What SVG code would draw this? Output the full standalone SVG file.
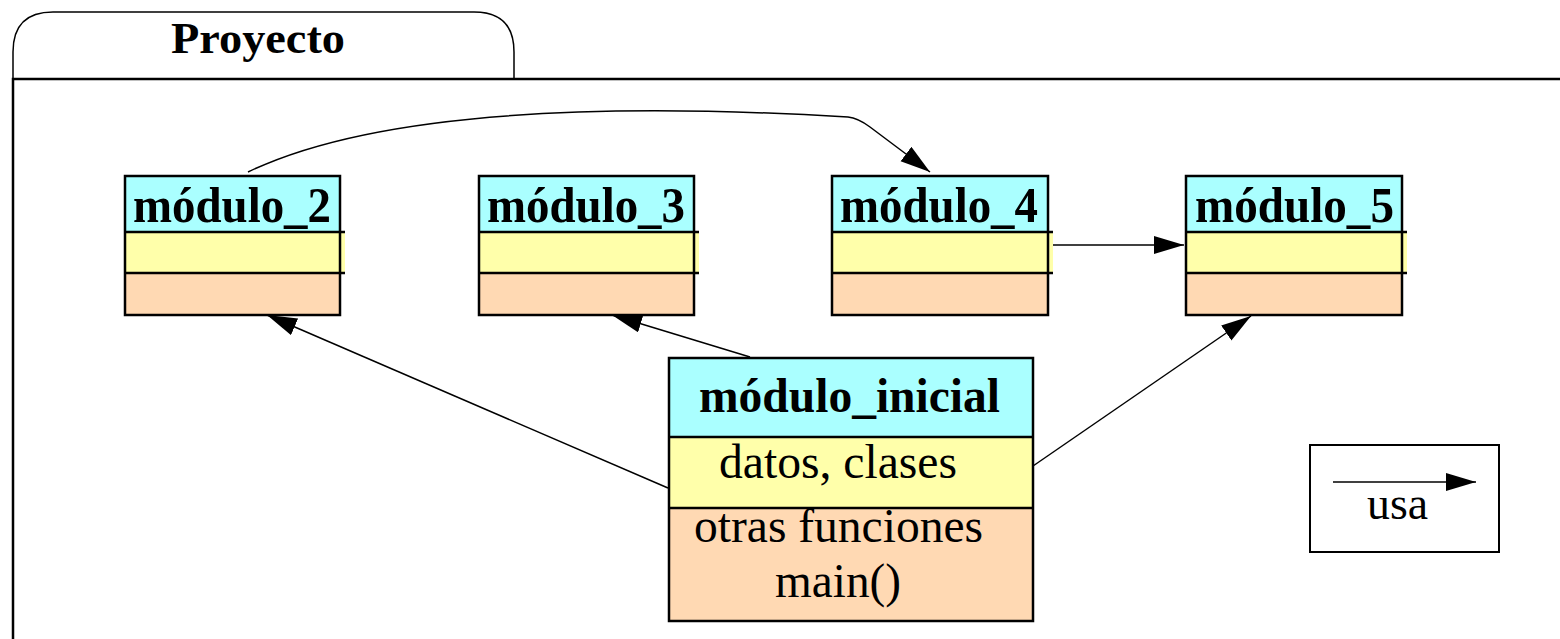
<svg xmlns="http://www.w3.org/2000/svg" width="1560" height="639" viewBox="0 0 1560 639">
<style>
.hdr{fill:#AAFFFF}
.dat{fill:#FFFFAA}
.fn{fill:#FFD9B3}
.bd{fill:none;stroke:#000;stroke-width:2.5}
.ln{stroke:#000;stroke-width:2.5}
.t{font-family:"Liberation Serif","Times New Roman",serif;fill:#000}
.b{font-weight:bold}
.con{fill:none;stroke:#000;stroke-width:1.5}
</style>
<defs>
<marker id="ah" markerUnits="userSpaceOnUse" markerWidth="32" markerHeight="20" refX="30" refY="9" orient="auto">
<path d="M0,0 L30,9 L0,18 Z" fill="#000"/>
</marker>
</defs>
<rect width="1560" height="639" fill="#fff"/>
<g id="proyecto">
<path d="M13,79 L13,52 Q13,12 53,12 L474,12 Q514,12 514,52 L514,79" fill="none" stroke="#000" stroke-width="1.5"/>
<path d="M13,639 L13,79 L1560,79" fill="none" stroke="#000" stroke-width="2.5"/>
<text class="t b" x="171" y="53" font-size="45" textLength="174" lengthAdjust="spacingAndGlyphs">Proyecto</text>
</g>
<g id="modulo_2">
<rect class="hdr" x="125" y="176" width="215" height="56"/>
<rect class="dat" x="125" y="232" width="220" height="41"/>
<rect class="fn" x="125" y="273" width="215" height="42"/>
<rect class="bd" x="125" y="176" width="215" height="139"/>
<line class="ln" x1="125" y1="232" x2="345" y2="232"/>
<line class="ln" x1="125" y1="273" x2="345" y2="273"/>
<text class="t b" x="133" y="222" font-size="50" textLength="198" lengthAdjust="spacingAndGlyphs">módulo_2</text>
</g>
<g id="modulo_3">
<rect class="hdr" x="479" y="176" width="215" height="56"/>
<rect class="dat" x="479" y="232" width="220" height="41"/>
<rect class="fn" x="479" y="273" width="215" height="42"/>
<rect class="bd" x="479" y="176" width="215" height="139"/>
<line class="ln" x1="479" y1="232" x2="699" y2="232"/>
<line class="ln" x1="479" y1="273" x2="699" y2="273"/>
<text class="t b" x="487" y="222" font-size="50" textLength="198" lengthAdjust="spacingAndGlyphs">módulo_3</text>
</g>
<g id="modulo_4">
<rect class="hdr" x="832" y="176" width="216" height="56"/>
<rect class="dat" x="832" y="232" width="221" height="41"/>
<rect class="fn" x="832" y="273" width="216" height="42"/>
<rect class="bd" x="832" y="176" width="216" height="139"/>
<line class="ln" x1="832" y1="232" x2="1053" y2="232"/>
<line class="ln" x1="832" y1="273" x2="1053" y2="273"/>
<text class="t b" x="840" y="222" font-size="50" textLength="198" lengthAdjust="spacingAndGlyphs">módulo_4</text>
</g>
<g id="modulo_5">
<rect class="hdr" x="1186" y="176" width="216" height="56"/>
<rect class="dat" x="1186" y="232" width="221" height="41"/>
<rect class="fn" x="1186" y="273" width="216" height="42"/>
<rect class="bd" x="1186" y="176" width="216" height="139"/>
<line class="ln" x1="1186" y1="232" x2="1407" y2="232"/>
<line class="ln" x1="1186" y1="273" x2="1407" y2="273"/>
<text class="t b" x="1195" y="222" font-size="50" textLength="199" lengthAdjust="spacingAndGlyphs">módulo_5</text>
</g>
<g id="modulo_inicial">
<rect class="hdr" x="669" y="358" width="364" height="79"/>
<rect class="dat" x="669" y="437" width="364" height="71"/>
<rect class="fn" x="669" y="508" width="364" height="113"/>
<rect class="bd" x="669" y="358" width="364" height="263"/>
<line class="ln" x1="669" y1="437" x2="1033" y2="437"/>
<line class="ln" x1="669" y1="508" x2="1033" y2="508"/>
<text class="t b" x="699" y="412" font-size="48" textLength="301" lengthAdjust="spacingAndGlyphs">módulo_inicial</text>
<text class="t" x="719" y="478" font-size="48" textLength="238" lengthAdjust="spacingAndGlyphs">datos, clases</text>
<text class="t" x="694" y="542" font-size="48" textLength="289" lengthAdjust="spacingAndGlyphs">otras funciones</text>
<text class="t" x="775" y="597" font-size="48" textLength="126" lengthAdjust="spacingAndGlyphs">main()</text>
</g>
<g id="leyenda">
<rect x="1310" y="445" width="189" height="107" fill="#fff" stroke="#000" stroke-width="2"/>
<line class="con" x1="1333" y1="482" x2="1476" y2="482" marker-end="url(#ah)"/>
<text class="t" x="1367" y="519" font-size="47" textLength="61" lengthAdjust="spacingAndGlyphs">usa</text>
</g>
<g id="connectors">
<path class="con" d="M248,172 C360,118 560,100 848,117 Q858,118 870,127 L930,172" marker-end="url(#ah)"/>
<line class="con" x1="1053" y1="245" x2="1184" y2="245" marker-end="url(#ah)"/>
<line class="con" x1="668" y1="488" x2="267" y2="315" marker-end="url(#ah)"/>
<line class="con" x1="750" y1="357" x2="612" y2="315" marker-end="url(#ah)"/>
<line class="con" x1="1033" y1="466" x2="1251" y2="316" marker-end="url(#ah)"/>
</g>
</svg>
